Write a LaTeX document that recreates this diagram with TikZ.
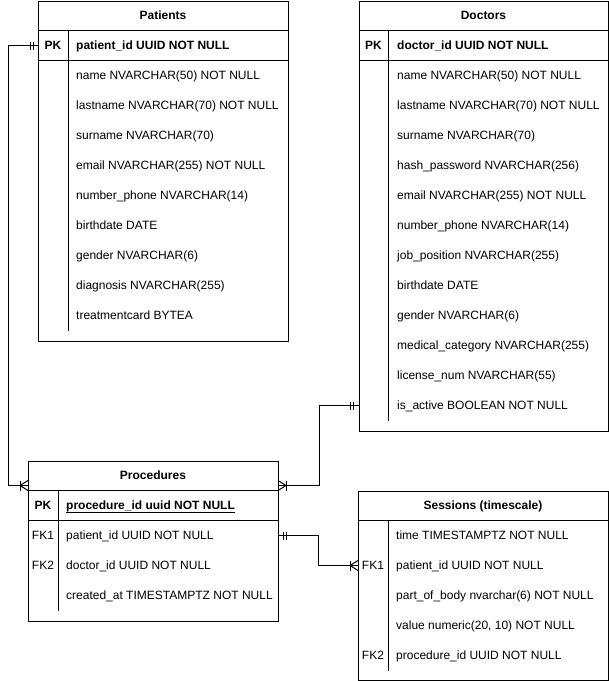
\documentclass[tikz,border=0pt]{standalone}
\usepackage{fontspec}
\setmainfont{Liberation Sans}
\tikzset{
  frame/.style={draw=black, line width=1pt, fill=white, minimum width=250pt, anchor=north west, inner sep=0pt},
  sepline/.style={draw=black, line width=1pt},
  conn/.style={draw=black, line width=1pt},
  ttl/.style={font=\fontsize{12}{14}\selectfont\bfseries, inner sep=0pt, text height=8.6pt, text depth=0pt},
  fld/.style={font=\fontsize{12}{14}\selectfont, inner sep=0pt, anchor=west, text height=8.6pt, text depth=0pt},
  fldb/.style={fld, font=\fontsize{12}{14}\selectfont\bfseries},
  keyl/.style={font=\fontsize{12}{14}\selectfont, inner sep=0pt, text height=8.6pt, text depth=0pt},
  keylb/.style={keyl, font=\fontsize{12}{14}\selectfont\bfseries},
}
\begin{document}
\begin{tikzpicture}[x=1pt,y=-1pt]
\useasboundingbox (0,0) rectangle (609,681);
% ---------- Patients ----------
\node[frame, minimum height=340pt] (patients) at (38,0.5) {};
\draw[sepline] (38,30.5) -- (288,30.5);
\draw[sepline] (38,60.5) -- (288,60.5);
\draw[sepline] (68,30.5) -- (68,330.5);
\node[ttl] (pt) at (163,15.5) {Patients};
\node[keylb] (ptk) at (53,45.5) {PK};
\node[fldb] (pt0) at (76,45.5) {patient\_id UUID NOT NULL};
\node[fld] (pt1) at (76,75.5) {name NVARCHAR(50) NOT NULL};
\node[fld] (pt2) at (76,105.5) {lastname NVARCHAR(70) NOT NULL};
\node[fld] (pt3) at (76,135.5) {surname NVARCHAR(70)};
\node[fld] (pt4) at (76,165.5) {email NVARCHAR(255) NOT NULL};
\node[fld] (pt5) at (76,195.5) {number\_phone NVARCHAR(14)};
\node[fld] (pt6) at (76,225.5) {birthdate DATE};
\node[fld] (pt7) at (76,255.5) {gender NVARCHAR(6)};
\node[fld] (pt8) at (76,285.5) {diagnosis NVARCHAR(255)};
\node[fld] (pt9) at (76,315.5) {treatmentcard BYTEA};
% ---------- Doctors ----------
\node[frame, minimum height=430pt, minimum width=249pt] (doctors) at (359,0.5) {};
\draw[sepline] (359,30.5) -- (608,30.5);
\draw[sepline] (359,60.5) -- (608,60.5);
\draw[sepline] (388,30.5) -- (388,420.5);
\node[ttl] (dt) at (483.5,15.5) {Doctors};
\node[keylb] (dtk) at (373.5,45.5) {PK};
\node[fldb] (d0) at (397,45.5) {doctor\_id UUID NOT NULL};
\node[fld] (d1) at (397,75.5) {name NVARCHAR(50) NOT NULL};
\node[fld] (d2) at (397,105.5) {lastname NVARCHAR(70) NOT NULL};
\node[fld] (d3) at (397,135.5) {surname NVARCHAR(70)};
\node[fld] (d4) at (397,165.5) {hash\_password NVARCHAR(256)};
\node[fld] (d5) at (397,195.5) {email NVARCHAR(255) NOT NULL};
\node[fld] (d6) at (397,225.5) {number\_phone NVARCHAR(14)};
\node[fld] (d7) at (397,255.5) {job\_position NVARCHAR(255)};
\node[fld] (d8) at (397,285.5) {birthdate DATE};
\node[fld] (d9) at (397,315.5) {gender NVARCHAR(6)};
\node[fld] (d10) at (397,345.5) {medical\_category NVARCHAR(255)};
\node[fld] (d11) at (397,375.5) {license\_num NVARCHAR(55)};
\node[fld] (d12) at (397,405.5) {is\_active BOOLEAN NOT NULL};
% ---------- Procedures ----------
\node[frame, minimum height=160pt] (procedures) at (28,460.5) {};
\draw[sepline] (28,490.5) -- (278,490.5);
\draw[sepline] (28,520.5) -- (278,520.5);
\draw[sepline] (58,490.5) -- (58,610.5);
\node[ttl] (prt) at (153,475.5) {Procedures};
\node[keylb] (prk0) at (43,505.5) {PK};
\node[keyl] (prk1) at (43,535.5) {FK1};
\node[keyl] (prk2) at (43,565.5) {FK2};
\node[fldb] (pr0) at (66,505.5) {procedure\_id uuid NOT NULL};
\draw[line width=1pt] ([yshift=-2.5pt]pr0.base west) -- ([yshift=-2.5pt]pr0.base east);
\node[fld] (pr1) at (66,535.5) {patient\_id UUID NOT NULL};
\node[fld] (pr2) at (66,565.5) {doctor\_id UUID NOT NULL};
\node[fld] (pr3) at (66,595.5) {created\_at TIMESTAMPTZ NOT NULL};
% ---------- Sessions ----------
\node[frame, minimum height=189pt] (sessions) at (358,490.5) {};
\draw[sepline] (358,520.5) -- (608,520.5);
\draw[sepline] (388,520.5) -- (388,670.5);
\node[ttl] (st) at (483,505.5) {Sessions (timescale)};
\node[keyl] (sk1) at (373,565.5) {FK1};
\node[keyl] (sk2) at (373,655.5) {FK2};
\node[fld] (s0) at (396,535.5) {time TIMESTAMPTZ NOT NULL};
\node[fld] (s1) at (396,565.5) {patient\_id UUID NOT NULL};
\node[fld] (s2) at (396,595.5) {part\_of\_body nvarchar(6) NOT NULL};
\node[fld] (s3) at (396,625.5) {value numeric(20, 10) NOT NULL};
\node[fld] (s4) at (396,655.5) {procedure\_id UUID NOT NULL};
% ---------- connectors ----------
\coordinate (c1a) at (38,45.5);
\coordinate (c1b) at (28,485.5);
\coordinate (c2a) at (359,405.5);
\coordinate (c2b) at (278,485.5);
\coordinate (c3a) at (278,535.5);
\coordinate (c3b) at (358,565.5);
% Patients -> Procedures
\draw[conn] (c1a) -- ++(-30,0) |- (c1b);
\draw[conn] ([xshift=-5pt]c1a) ++(0,-4) -- ++(0,8);
\draw[conn] ([xshift=-8pt]c1a) ++(0,-4) -- ++(0,8);
\draw[conn] ([xshift=-8pt]c1b) ++(0,-5) -- ++(0,10);
\draw[conn] ([xshift=-8pt]c1b) -- ++(8,-5);
\draw[conn] ([xshift=-8pt]c1b) -- ++(8,5);
% Doctors -> Procedures
\draw[conn] (c2a) -- ++(-40,0) |- (c2b);
\draw[conn] ([xshift=-6pt]c2a) ++(0,-4) -- ++(0,8);
\draw[conn] ([xshift=-9pt]c2a) ++(0,-4) -- ++(0,8);
\draw[conn] ([xshift=8pt]c2b) ++(0,-5) -- ++(0,10);
\draw[conn] ([xshift=8pt]c2b) -- ++(-8,-5);
\draw[conn] ([xshift=8pt]c2b) -- ++(-8,5);
% Procedures -> Sessions
\draw[conn] (c3a) -- ++(40,0) |- (c3b);
\draw[conn] ([xshift=5pt]c3a) ++(0,-4) -- ++(0,8);
\draw[conn] ([xshift=8pt]c3a) ++(0,-4) -- ++(0,8);
\draw[conn] ([xshift=-8pt]c3b) ++(0,-5) -- ++(0,10);
\draw[conn] ([xshift=-8pt]c3b) -- ++(8,-5);
\draw[conn] ([xshift=-8pt]c3b) -- ++(8,5);
\end{tikzpicture}
\end{document}
